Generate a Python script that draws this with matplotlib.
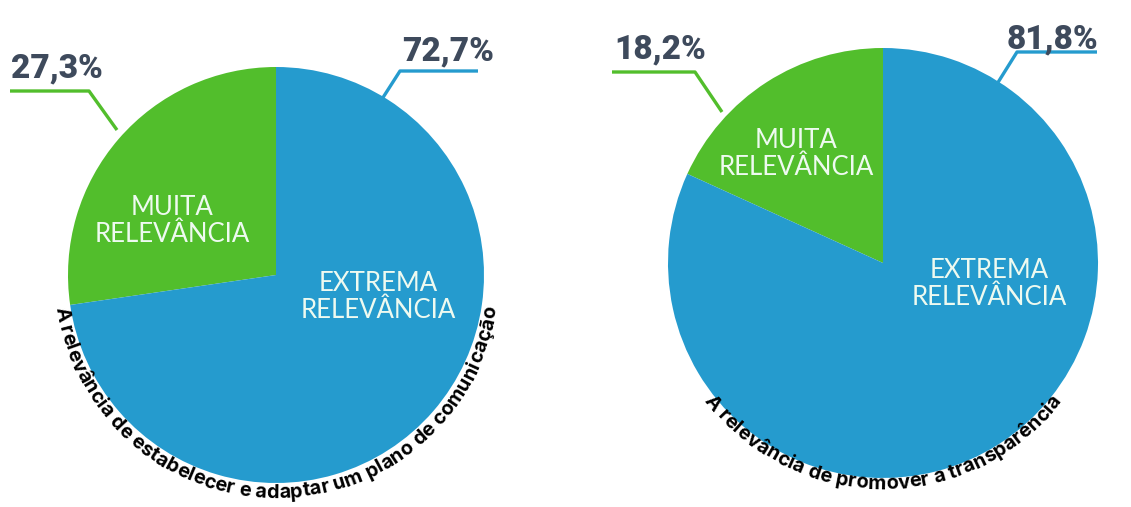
import numpy as np
import matplotlib
matplotlib.use("Agg")
import matplotlib.pyplot as plt
from matplotlib.font_manager import FontProperties, findfont, get_font

# ---------------- data ----------------
categories = ["MUITA\nRELEVÂNCIA", "EXTREMA\nRELEVÂNCIA"]
left_values = [27.3, 72.7]
right_values = [18.2, 81.8]
left_pct_labels = ["27,3%", "72,7%"]
right_pct_labels = ["18,2%", "81,8%"]
left_title = "A relevância de estabelecer e adaptar um plano de comunicação"
right_title = "A relevância de promover a transparência"

GREEN = "#52BE2C"
BLUE = "#259BCE"
DARK = "#3E4A5C"
LABEL_C = "#EEFAF0"
colors = [GREEN, BLUE]

W, H = 1131, 507
fig = plt.figure(figsize=(W / 100, H / 100), dpi=100)
ax = fig.add_axes([0, 0, 1, 1])

def Y(y):
    return H - y

# pies
L_C, L_R = (276, Y(275)), 208
R_C, R_R = (883, Y(263)), 215
ax.pie(left_values, colors=colors, startangle=90, counterclock=True,
       center=L_C, radius=L_R, wedgeprops=dict(linewidth=0), frame=True)
ax.pie(right_values, colors=colors, startangle=90, counterclock=True,
       center=R_C, radius=R_R, wedgeprops=dict(linewidth=0), frame=True)
ax.set_xlim(0, W)
ax.set_ylim(0, H)
ax.set_aspect("equal")
ax.axis("off")

# slice labels
lab_font = dict(family=["Lato", "DejaVu Sans"], weight="normal", fontsize=18.5,
                color=LABEL_C, ha="center", va="center", linespacing=1.12)
ax.text(172, Y(221), categories[0], **lab_font)
ax.text(378, Y(297), categories[1], **lab_font)
ax.text(796, Y(154), categories[0], **lab_font)
ax.text(989, Y(284), categories[1], **lab_font)

# percentage labels with leader lines
pct_font = dict(family=["Roboto", "DejaVu Sans"], weight=900, fontsize=24,
                color=DARK, va="center", ha="left")
ax.text(11, Y(68), left_pct_labels[0], **pct_font)
ax.text(402, Y(51), left_pct_labels[1], **pct_font)
ax.text(614, Y(49), right_pct_labels[0], **pct_font)
ax.text(1007, Y(39), right_pct_labels[1], **pct_font)

lw = 2.4
ax.plot([10, 89, 117], [Y(91), Y(91), Y(130)], color=GREEN, lw=lw, solid_capstyle="butt")
ax.plot([375, 400, 478], [Y(110), Y(71), Y(71)], color=BLUE, lw=lw, solid_capstyle="butt")
ax.plot([612, 695, 722], [Y(72), Y(72), Y(112)], color=GREEN, lw=lw, solid_capstyle="butt")
ax.plot([992, 1017, 1097], [Y(92), Y(52), Y(52)], color=BLUE, lw=lw, solid_capstyle="butt")

# curved text along bottom of each pie
def curved_text(text, center, r_base, size=14.3):
    fp = FontProperties(family="Inter", weight="bold", size=size)
    font = get_font(findfont(fp))
    font.set_size(size, 72)
    adv = []
    for ch in text:
        g = font.load_char(ord(ch))
        adv.append(g.linearHoriAdvance / 65536 * 100 / 72)
    total = sum(adv)
    s = 0.0
    cx, cy = center
    for ch, a in zip(text, adv):
        sc = s + a / 2
        th = np.deg2rad(270) + (sc - total / 2) / (r_base - 4)
        x = cx + r_base * np.cos(th)
        y = cy + r_base * np.sin(th)
        ax.text(x, y, ch, fontproperties=fp, color="black", ha="center",
                va="baseline", rotation=np.rad2deg(th) + 90,
                rotation_mode="anchor")
        s += a

curved_text(left_title, L_C, 223)
curved_text(right_title, R_C, 226)

fig.savefig("out.png", dpi=100, facecolor="white")
